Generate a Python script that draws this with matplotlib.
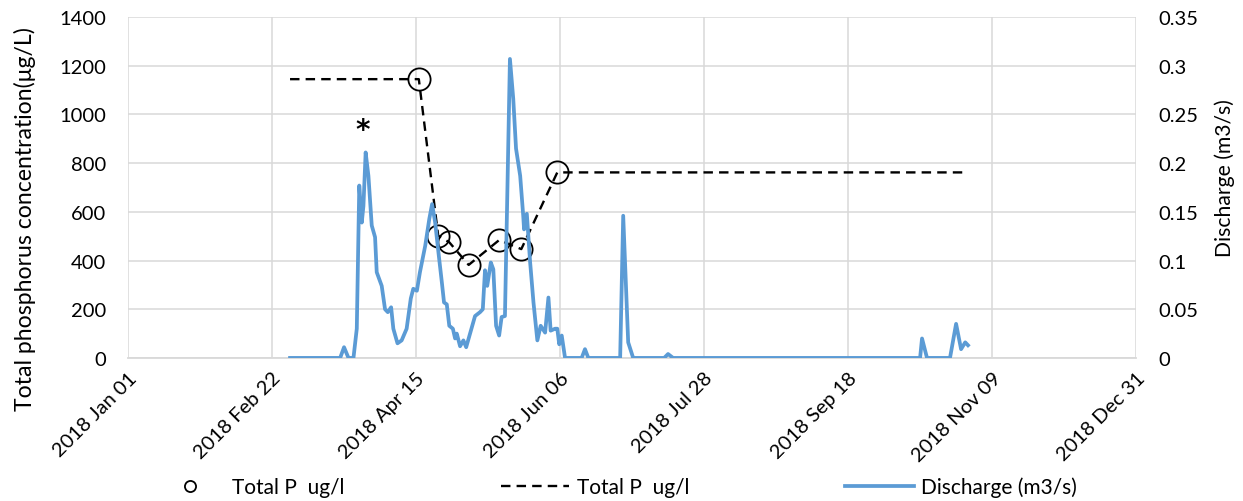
import matplotlib
matplotlib.use("Agg")
import matplotlib.pyplot as plt
from matplotlib.transforms import ScaledTranslation

# days counted from 2018 Jan 01
tick_days = [0, 52, 104, 156, 208, 260, 312, 364]
tick_labels = ["2018 Jan 01", "2018 Feb 22", "2018 Apr 15", "2018 Jun 06",
               "2018 Jul 28", "2018 Sep 18", "2018 Nov 09", "2018 Dec 31"]

# Total P samples (ug/l)
tp_days = [105, 112, 116, 123, 134, 142, 155]
tp_values = [1145, 502, 475, 382, 484, 447, 762]

# dashed line, extended to start/end of the discharge record
tp_line_days = [58.5, 105, 112, 116, 123, 134, 142, 155, 303.3]
tp_line_values = [1145, 1145, 502, 475, 382, 484, 447, 762, 762]

# Discharge (m3/s)
q_days = [58.5, 76.6, 78.0, 79.6, 81.4, 82.6, 83.5, 84.4, 85.0, 85.8,
          86.8, 88.0, 89.2, 89.8, 91.6, 92.8, 93.8, 95.0, 95.8, 97.3,
          98.8, 100.6, 102.1, 103.0, 104.3, 105.4, 107.3, 108.8, 109.8, 110.9,
          112.1, 113.3, 114.1, 115.1, 116.0, 117.3, 118.1, 118.7, 119.9, 121.1,
          122.1, 123.2, 125.3, 127.1, 128.1, 128.9, 129.7, 131.0, 131.9, 132.9,
          134.0, 134.9, 136.1, 137.9, 139.1, 140.1, 141.6, 142.7, 143.0, 144.0,
          145.2, 146.4, 147.8, 149.0, 150.6, 151.8, 152.6, 154.2, 155.0, 155.7,
          156.6, 157.8, 163.8, 165.0, 166.2, 177.7, 178.8, 180.6, 182.4, 193.6,
          195.0, 196.8, 286.0, 286.7, 288.5, 296.8, 299.0, 300.8, 302.3, 303.3]
q_values = [0, 0, 0.011, 0, 0, 0.030, 0.177, 0.139, 0.156, 0.211,
            0.187, 0.136, 0.124, 0.088, 0.074, 0.050, 0.047, 0.052, 0.030, 0.015,
            0.018, 0.030, 0.061, 0.071, 0.069, 0.088, 0.115, 0.143, 0.158, 0.139,
            0.108, 0.078, 0.057, 0.055, 0.033, 0.030, 0.020, 0.025, 0.012, 0.018,
            0.011, 0.022, 0.043, 0.047, 0.050, 0.090, 0.074, 0.098, 0.091, 0.033,
            0.023, 0.042, 0.043, 0.307, 0.266, 0.215, 0.187, 0.146, 0.132, 0.148,
            0.098, 0.057, 0.018, 0.033, 0.026, 0.062, 0.028, 0.030, 0.030, 0.014,
            0.023, 0, 0, 0.009, 0, 0, 0.146, 0.016, 0, 0,
            0.004, 0, 0, 0.020, 0, 0, 0.035, 0.009, 0.016, 0.013]


def main():
    plt.rcParams['font.family'] = ['Lato', 'DejaVu Sans']
    plt.rcParams['font.size'] = 14.5

    fig = plt.figure(figsize=(12.43, 5.02), dpi=100)
    ax = fig.add_axes([0.103, 0.285, 0.811, 0.679])
    ax2 = ax.twinx()

    grid_c = "#d9d9d9"
    ax.set_xlim(0, 364)
    ax.set_ylim(0, 1400)
    ax2.set_ylim(0, 0.35)
    ax.set_yticks(range(0, 1401, 200))
    ax2.set_yticks([0, 0.05, 0.1, 0.15, 0.2, 0.25, 0.3, 0.35])
    ax2.set_yticklabels(["0", "0.05", "0.1", "0.15", "0.2", "0.25", "0.3", "0.35"])
    ax.set_xticks(tick_days)
    ax.set_xticklabels(tick_labels, rotation=45, ha="right", va="top",
                       rotation_mode="anchor")
    # push the slanted date labels down-left like the original
    shift = ScaledTranslation(-0.25, -0.19, fig.dpi_scale_trans)
    for lab in ax.get_xticklabels():
        lab.set_transform(lab.get_transform() + shift)
    ax.grid(True, color=grid_c, lw=1.1)
    ax.set_axisbelow(True)
    for a in (ax, ax2):
        for s in a.spines.values():
            s.set_visible(False)
        a.tick_params(length=0)
    ax.spines["bottom"].set_visible(True)
    ax.spines["bottom"].set_color(grid_c)
    ax.spines["bottom"].set_linewidth(1.3)
    ax.tick_params(axis="y", pad=16)
    ax.tick_params(axis="x", pad=8)
    ax2.tick_params(axis="y", pad=16)

    ax.plot(tp_line_days, tp_line_values, color="black", ls=(0, (4, 2.6)),
            lw=1.7, label="Total P  ug/l", zorder=3)
    ax.plot(tp_days, tp_values, ls="none", marker="o", ms=16, mfc="none",
            mec="black", mew=1.3, label="Total P  ug/l", zorder=4)
    ax2.plot(q_days, q_values, color="#5B9BD5", lw=2.7,
             label="Discharge (m3/s)", solid_joinstyle="round")

    ax.text(84.6, 935, "*", ha="center", va="center", fontsize=20,
            fontweight="bold", family="DejaVu Sans")

    fig.text(0.02, 0.563, "Total phosphorus concentration(\u03bcg/L)",
             rotation=90, ha="center", va="center", fontsize=16.6)
    fig.text(0.9855, 0.645, "Discharge (m3/s)", rotation=90,
             ha="center", va="center", fontsize=15.2)

    h1, l1 = ax.get_legend_handles_labels()
    h2, l2 = ax2.get_legend_handles_labels()
    fig.legend([h1[1], h1[0], h2[0]], [l1[1], l1[0], l2[0]],
               loc="center", bbox_to_anchor=(0.496, 0.028), ncol=3,
               frameon=False, handlelength=3.3, handletextpad=0.35,
               columnspacing=7.5, markerscale=0.5, fontsize=15)

    fig.savefig("out.png", dpi=100)


if __name__ == "__main__":
    main()
